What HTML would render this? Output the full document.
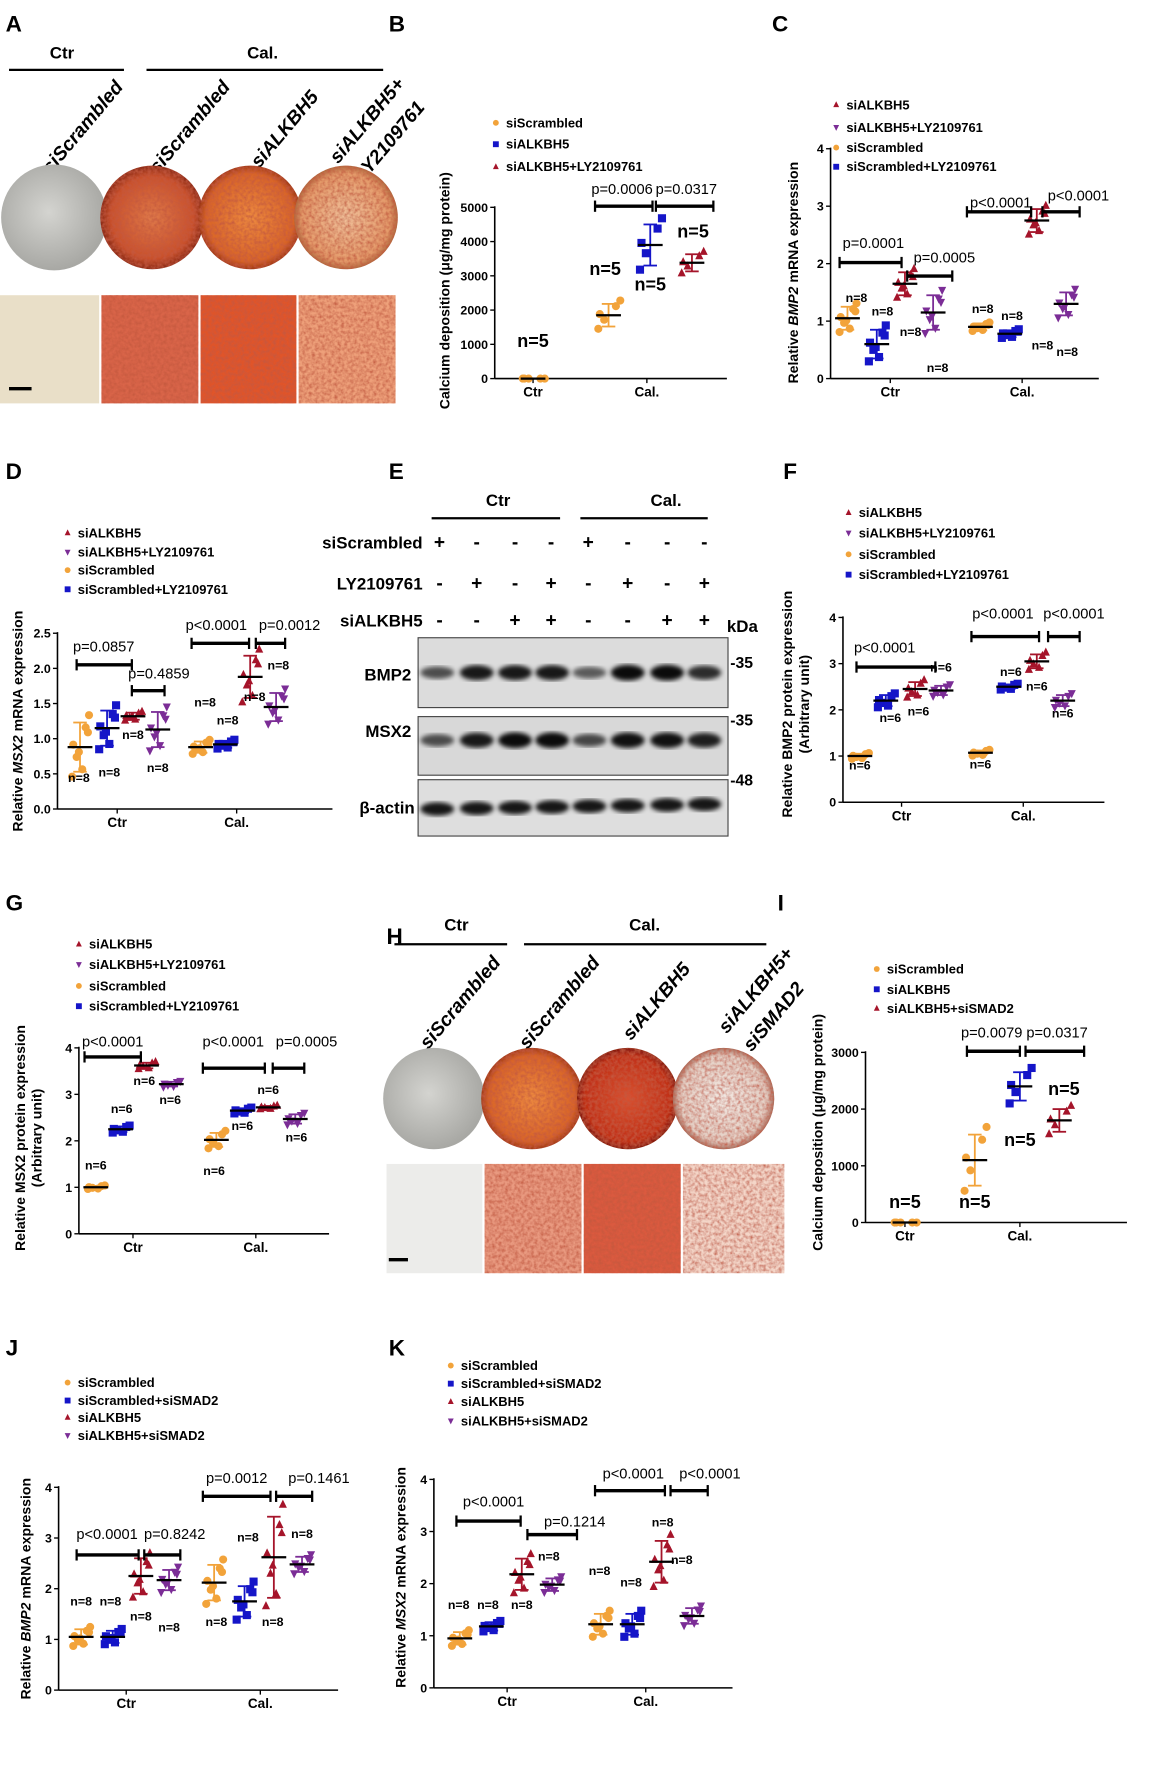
<!DOCTYPE html>
<html><head><meta charset="utf-8">
<style>
html,body{margin:0;padding:0;background:#fff;}
svg{display:block;}
text{font-family:"Liberation Sans",Arial,sans-serif;}
</style></head>
<body>
<svg id="s" width="1154" height="1778" viewBox="0 0 1024 1578" preserveAspectRatio="none" xmlns="http://www.w3.org/2000/svg">
<defs>
<filter id="noise" x="0" y="0" width="100%" height="100%">
<feTurbulence type="fractalNoise" baseFrequency="0.35" numOctaves="2" seed="3" result="t"/>
<feColorMatrix in="t" type="matrix" values="0 0 0 0 0.55  0 0 0 0 0.1  0 0 0 0 0.05  0 0 0 -1.6 1.1" result="c"/>
<feComposite in="c" in2="SourceGraphic" operator="in" result="m"/>
<feMerge><feMergeNode in="SourceGraphic"/><feMergeNode in="m"/></feMerge>
</filter>
<filter id="blur"><feGaussianBlur stdDeviation="2.2"/></filter>
<radialGradient id="gRed" cx="50%" cy="50%" r="50%"><stop offset="0" stop-color="#e07a4a"/><stop offset="0.8" stop-color="#c8502c"/><stop offset="1" stop-color="#8a2a18"/></radialGradient>
<radialGradient id="gOr" cx="50%" cy="50%" r="50%"><stop offset="0" stop-color="#ee8a40"/><stop offset="0.85" stop-color="#d86428"/><stop offset="1" stop-color="#a03a18"/></radialGradient>
<radialGradient id="gPale" cx="50%" cy="50%" r="50%"><stop offset="0" stop-color="#f0c09a"/><stop offset="0.85" stop-color="#e49a6a"/><stop offset="1" stop-color="#b06a40"/></radialGradient>
<radialGradient id="gGrey" cx="45%" cy="45%" r="55%"><stop offset="0" stop-color="#d4d4d0"/><stop offset="1" stop-color="#a8a8a4"/></radialGradient>
<radialGradient id="gDeep" cx="50%" cy="50%" r="50%"><stop offset="0" stop-color="#d85030"/><stop offset="0.85" stop-color="#c03018"/><stop offset="1" stop-color="#801810"/></radialGradient>
<radialGradient id="gWh" cx="50%" cy="50%" r="50%"><stop offset="0" stop-color="#f2e8e2"/><stop offset="0.85" stop-color="#e4cfc4"/><stop offset="1" stop-color="#a87060"/></radialGradient>
</defs>
<g id="root"></g>
</svg>
<script>
var NS="http://www.w3.org/2000/svg",root=document.getElementById('root');
function el(t,a,p,txt){var e=document.createElementNS(NS,t);for(var k in a)e.setAttribute(k,a[k]);if(txt!==undefined)e.textContent=txt;(p||root).appendChild(e);return e;}
function T(x,y,s,o){o=o||{};var a={x:x,y:y,'font-size':o.fs||11,'font-weight':o.fw||'bold','text-anchor':o.a||'start',fill:o.c||'#000'};if(o.it)a['font-style']='italic';if(o.tr)a.transform=o.tr;return el('text',a,null,s);}
function L(x1,y1,x2,y2,w,c){return el('line',{x1:x1,y1:y1,x2:x2,y2:y2,stroke:c||'#000','stroke-width':w||1.3});}
var COL={o:'#f2a33a',b:'#1515c8',r:'#a5142a',p:'#7b2d96'};
var SH={o:'c',b:'s',r:'u',p:'d'};
function mk(x,y,k,sz){var c=COL[k],s=sz||3.6,sh=SH[k];
 if(sh=='c')el('circle',{cx:x,cy:y,r:s,fill:c});
 else if(sh=='s')el('rect',{x:x-s,y:y-s,width:2*s,height:2*s,fill:c});
 else if(sh=='u')el('polygon',{points:(x)+','+(y-s*1.2)+' '+(x-s)+','+(y+s*0.8)+' '+(x+s)+','+(y+s*0.8),fill:c});
 else el('polygon',{points:(x)+','+(y+s*1.2)+' '+(x-s)+','+(y-s*0.8)+' '+(x+s)+','+(y-s*0.8),fill:c});}
var KS=[-1.2,0.8,-0.4,1.3,0.1,-0.9,0.6,-0.2];
var JX=[-7,5,-3,8,-6,2,7,-1];
function chart(c){
 var Y=function(v){return c.y0-(v/c.ymax)*(c.y0-c.ytop);};
 L(c.ax,c.y0,c.ax,c.ytop-1,1.4);L(c.ax,c.y0,c.xend,c.y0,1.4);
 c.ticks.forEach(function(v){var y=Y(v);L(c.ax-4,y,c.ax,y,1.2);T(c.ax-6,y+4,c.dec?v.toFixed(c.dec):String(v),{a:'end',fs:11});});
 c.groups.forEach(function(g){L(g[0],c.y0,g[0],c.y0+4,1.2);T(g[0],c.y0+16,g[1],{a:'middle',fs:12});});
 c.series.forEach(function(s){var x=s[0],m=s[1],sd=s[2],k=s[3],n=s[4];
  for(var i=0;i<n;i++){var v=m+sd*KS[i];if(v<0)v=Math.abs(v)*0.2;mk(x+JX[i]*(c.jw||1),Y(v),k);}
  if(sd>0){L(x,Y(m-sd),x,Y(m+sd),1.6,COL[k]);L(x-6,Y(m+sd),x+6,Y(m+sd),1.6,COL[k]);L(x-6,Y(m-sd),x+6,Y(m-sd),1.6,COL[k]);}
  L(x-11,Y(m),x+11,Y(m),2);});
 (c.nl||[]).forEach(function(p){T(p[0],p[1],c.nt,{a:'middle',fs:c.nfs||11});});
 (c.bars||[]).forEach(function(b){L(b[0],b[2],b[1],b[2],3);L(b[0],b[2]-5,b[0],b[2]+5,2);L(b[1],b[2]-5,b[1],b[2]+5,2);T(b[4],b[5],b[3],{a:'middle',fs:13,fw:'normal'});});
 var yl=c.ylab;yl.lines.forEach(function(ln,i){var x=yl.x+i*15;var t=el('text',{x:x,y:yl.y,'font-size':12.5,'font-weight':'bold','text-anchor':'middle',transform:'rotate(-90 '+x+' '+yl.y+')'});
  ln.forEach(function(seg){el('tspan',seg[1]?{'font-style':'italic'}:{},t,seg[0]);});});
}
[['A',5,28],['B',345,28],['C',685,28],['D',5,425],['E',345,425],['F',695,425],['G',5,808],['H',343,838],['I',690,808],['J',5,1203],['K',345,1203]].forEach(function(p){T(p[1],p[2],p[0],{fs:20});});

// Panel A
T(55,52,'Ctr',{a:'middle',fs:15});L(8,62,110,62,2);
T(233,52,'Cal.',{a:'middle',fs:15});L(130,62,340,62,2);
function rlab(x,y,s){T(x,y,s,{fs:17,it:1,tr:'rotate(-50 '+x+' '+y+')'});}
rlab(45,155,'siScrambled');rlab(140,155,'siScrambled');rlab(230,150,'siALKBH5');rlab(300,146,'siALKBH5+');rlab(322,162,'LY2109761');
el('circle',{cx:48,cy:193,r:47,fill:'url(#gGrey)'});
el('circle',{cx:135,cy:193,r:46,fill:'url(#gRed)',filter:'url(#noise)'});
el('circle',{cx:222,cy:193,r:46,fill:'url(#gOr)',filter:'url(#noise)'});
el('circle',{cx:307,cy:193,r:46,fill:'url(#gPale)',filter:'url(#noise)'});
el('rect',{x:0,y:262,width:88,height:96,fill:'#e9dfc8'});
el('rect',{x:90,y:262,width:86,height:96,fill:'#d9654a',filter:'url(#noise)'});
el('rect',{x:178,y:262,width:85,height:96,fill:'#e0552c',filter:'url(#noise)'});
el('rect',{x:265,y:262,width:86,height:96,fill:'#eea07a',filter:'url(#noise)'});
L(8,345,28,345,3);

function safe(f){try{f();}catch(e){}}
// Panel B
safe(function(){chart({ax:439,y0:336,ytop:184,ymax:5000,ticks:[0,1000,2000,3000,4000,5000],xend:645,
 groups:[[473,'Ctr'],[574,'Cal.']],
 series:[[473,0,0,'o',5],[540,1850,330,'o',5],[577,3900,600,'b',5],[614,3380,250,'r',5]],
 nt:'n=5',nfs:16,nl:[[473,308],[537,244],[577,258],[615,211]],
 bars:[[528,579,183,'p=0.0006',552,172],[582,633,183,'p=0.0317',609,172]],
 ylab:{x:399,y:258,lines:[[['Calcium deposition (μg/mg protein)']]]},jw:1.3});});
// Panel C
safe(function(){chart({ax:737,y0:336,ytop:132,ymax:4,ticks:[0,1,2,3,4],xend:975,
 groups:[[790,'Ctr'],[907,'Cal.']],
 series:[[752,1.05,0.2,'o',8],[778,0.6,0.25,'b',8],[803,1.65,0.2,'r',8],[828,1.15,0.3,'p',8],
  [870,0.9,0.06,'o',8],[896,0.78,0.06,'b',8],[920,2.75,0.2,'r',8],[946,1.3,0.2,'p',8]],
 nt:'n=8',nl:[[760,268],[783,280],[808,298],[832,330],[872,278],[898,284],[925,310],[947,316]],
 bars:[[745,800,233,'p=0.0001',775,220],[805,845,245,'p=0.0005',838,233],[858,915,188,'p<0.0001',888,184],[925,958,188,'p<0.0001',957,178]],
 ylab:{x:708,y:242,lines:[[['Relative '],['BMP2',1],[' mRNA  expression']]]}});});
// Panel D
safe(function(){chart({ax:51,y0:718,ytop:562,ymax:2.5,ticks:[0,0.5,1,1.5,2,2.5],dec:1,xend:295,
 groups:[[104,'Ctr'],[210,'Cal.']],
 series:[[71,0.88,0.35,'o',8],[95,1.15,0.25,'b',8],[118,1.32,0.05,'r',8],[140,1.13,0.25,'p',8],
  [178,0.88,0.08,'o',8],[200,0.92,0.05,'b',8],[222,1.88,0.3,'r',8],[245,1.45,0.2,'p',8]],
 nt:'n=8',nl:[[70,694],[97,689],[118,656],[140,685],[182,627],[202,643],[226,622],[247,594]],
 bars:[[68,117,590,'p=0.0857',92,578],[117,146,613,'p=0.4859',141,602],[170,221,571,'p<0.0001',192,559],[227,253,571,'p=0.0012',257,559]],
 ylab:{x:20,y:640,lines:[[['Relative '],['MSX2',1],[' mRNA  expression']]]}});});
// Panel F
safe(function(){chart({ax:748,y0:712,ytop:548,ymax:4,ticks:[0,1,2,3,4],xend:980,
 groups:[[800,'Ctr'],[908,'Cal.']],
 series:[[763,1.0,0.05,'o',6],[786,2.2,0.12,'b',6],[812,2.45,0.15,'r',6],[835,2.42,0.1,'p',6],
  [870,1.07,0.05,'o',6],[895,2.5,0.05,'b',6],[920,3.05,0.15,'r',6],[943,2.2,0.12,'p',6]],
 nt:'n=6',nl:[[763,683],[790,641],[815,635],[835,596],[870,682],[897,600],[920,613],[943,637]],
 bars:[[760,830,592,'p<0.0001',785,579],[862,922,565,'p<0.0001',890,549],[930,958,565,'p<0.0001',953,549]],
 ylab:{x:703,y:625,lines:[[['Relative BMP2 protein expression']],[['(Arbitrary unit)']]]}});});
// Panel G
safe(function(){chart({ax:70,y0:1095,ytop:930,ymax:4,ticks:[0,1,2,3,4],xend:292,
 groups:[[118,'Ctr'],[227,'Cal.']],
 series:[[85,1.0,0.03,'o',6],[107,2.25,0.06,'b',6],[130,3.62,0.06,'r',6],[152,3.22,0.05,'p',6],
  [192,2.02,0.15,'o',6],[215,2.65,0.05,'b',6],[238,2.72,0.03,'r',6],[262,2.47,0.1,'p',6]],
 nt:'n=6',nl:[[85,1038],[108,988],[128,963],[151,980],[190,1043],[215,1003],[238,971],[263,1013]],
 bars:[[75,125,938,'p<0.0001',100,929],[180,235,948,'p<0.0001',207,929],[242,270,948,'p=0.0005',272,929]],
 ylab:{x:22,y:1010,lines:[[['Relative MSX2 protein expression']],[['(Arbitrary unit)']]]}});});
// Panel I
safe(function(){chart({ax:768,y0:1085,ytop:934,ymax:3000,ticks:[0,1000,2000,3000],xend:1000,
 groups:[[803,'Ctr'],[905,'Cal.']],
 series:[[803,0,0,'o',5],[865,1100,450,'o',5],[905,2400,250,'b',5],[940,1800,200,'r',5]],
 nt:'n=5',nfs:16,nl:[[803,1072],[865,1072],[905,1017],[944,972]],
 bars:[[858,905,933,'p=0.0079',880,921],[910,962,933,'p=0.0317',938,921]],
 ylab:{x:730,y:1005,lines:[[['Calcium deposition (μg/mg protein)']]]},jw:1.3});});
// Panel J
safe(function(){chart({ax:52,y0:1500,ytop:1320,ymax:4,ticks:[0,1,2,3,4],xend:300,
 groups:[[112,'Ctr'],[231,'Cal.']],
 series:[[72,1.05,0.15,'o',8],[100,1.05,0.12,'b',8],[125,2.25,0.35,'r',8],[150,2.17,0.2,'p',8],
  [190,2.12,0.35,'o',8],[217,1.75,0.3,'b',8],[243,2.62,0.8,'r',8],[268,2.48,0.15,'p',8]],
 nt:'n=8',nl:[[72,1425],[98,1425],[125,1438],[150,1448],[192,1443],[220,1368],[242,1443],[268,1365]],
 bars:[[68,123,1380,'p<0.0001',95,1366],[128,160,1380,'p=0.8242',155,1366],[180,240,1328,'p=0.0012',210,1316],[245,277,1328,'p=0.1461',283,1316]],
 ylab:{x:27,y:1410,lines:[[['Relative '],['BMP2',1],[' mRNA  expression']]]}});});
// Panel K
safe(function(){chart({ax:385,y0:1498,ytop:1313,ymax:4,ticks:[0,1,2,3,4],xend:650,
 groups:[[450,'Ctr'],[573,'Cal.']],
 series:[[408,0.95,0.12,'o',8],[436,1.18,0.08,'b',8],[463,2.18,0.3,'r',8],[490,1.98,0.12,'p',8],
  [533,1.22,0.2,'o',8],[561,1.22,0.2,'b',8],[587,2.42,0.4,'r',8],[614,1.38,0.15,'p',8]],
 nt:'n=8',nl:[[407,1428],[433,1428],[463,1428],[487,1385],[532,1398],[560,1408],[588,1355],[605,1388]],
 bars:[[405,462,1350,'p<0.0001',438,1337],[468,512,1362,'p=0.1214',510,1355],[528,590,1323,'p<0.0001',562,1312],[595,628,1323,'p<0.0001',630,1312]],
 ylab:{x:360,y:1400,lines:[[['Relative '],['MSX2',1],[' mRNA  expression']]]}});});
// Legends
function leg(x,ys,items){items.forEach(function(it,i){mk(x,ys[i]-4,it[0],2.6);T(x+9,ys[i],it[1],{fs:11.5});});}
var LY=[['r','siALKBH5'],['p','siALKBH5+LY2109761'],['o','siScrambled'],['b','siScrambled+LY2109761']];
var SM=[['o','siScrambled'],['b','siScrambled+siSMAD2'],['r','siALKBH5'],['p','siALKBH5+siSMAD2']];
leg(440,[113,132,152],[['o','siScrambled'],['b','siALKBH5'],['r','siALKBH5+LY2109761']]);
leg(742,[97,117,135,152],LY);
leg(60,[477,494,510,527],LY);
leg(753,[459,477,496,514],LY);
leg(70,[842,860,879,897],LY);
leg(778,[864,882,899],[['o','siScrambled'],['b','siALKBH5'],['r','siALKBH5+siSMAD2']]);
leg(60,[1231,1247,1262,1278],SM);
leg(400,[1216,1232,1248,1265],SM);

// Panel E
T(442,449,'Ctr',{a:'middle',fs:15});L(383,460,497,460,2);
T(591,449,'Cal.',{a:'middle',fs:15});L(515,460,628,460,2);
T(375,487,'siScrambled',{a:'end',fs:15});T(375,523,'LY2109761',{a:'end',fs:15});T(375,556,'siALKBH5',{a:'end',fs:15});
var cols=[390,423,457,489,522,557,592,625];
var r1='+---+---',r2='-+-+-+-+',r3='--++--++';
[[r1,487],[r2,523],[r3,556]].forEach(function(r){for(var i=0;i<8;i++)T(cols[i],r[1],r[0][i]=='+'?'+':'-',{a:'middle',fs:17});});
T(645,561,'kDa',{fs:15});
el('rect',{x:371,y:566,width:275,height:62,fill:'#dcdcdc',stroke:'#444'});
el('rect',{x:371,y:636,width:275,height:52,fill:'#d8d8d8',stroke:'#444'});
el('rect',{x:371,y:692,width:275,height:50,fill:'#dedede',stroke:'#444'});
T(365,604,'BMP2',{a:'end',fs:15});T(365,654,'MSX2',{a:'end',fs:15});T(368,722,'β-actin',{a:'end',fs:15});
var bx=[388,423,457,490,523,557,592,625];
var b1=[0.5,0.9,0.9,0.9,0.4,1,1,0.75],b2=[0.5,0.9,1,1,0.55,0.95,0.95,0.85];
for(var i=0;i<8;i++){
 el('ellipse',{cx:bx[i],cy:597,rx:15,ry:4+3*b1[i],fill:'#000','fill-opacity':0.35+0.6*b1[i],filter:'url(#blur)'});
 el('ellipse',{cx:bx[i],cy:657,rx:15,ry:4+3*b2[i],fill:'#000','fill-opacity':0.35+0.6*b2[i],filter:'url(#blur)'});
 el('ellipse',{cx:bx[i],cy:718-(i*0.6),rx:15,ry:6,fill:'#000','fill-opacity':0.9,filter:'url(#blur)'});}
T(648,593,'-35',{fs:14});T(648,644,'-35',{fs:14});T(648,697,'-48',{fs:14});

// Panel H
T(405,826,'Ctr',{a:'middle',fs:15});L(350,838,450,838,2);
T(572,826,'Cal.',{a:'middle',fs:15});L(465,838,680,838,2);
rlab(380,932,'siScrambled');rlab(468,932,'siScrambled');rlab(560,924,'siALKBH5');rlab(645,918,'siALKBH5+');rlab(667,934,'siSMAD2');
el('circle',{cx:385,cy:975,r:45,fill:'url(#gGrey)'});
el('circle',{cx:472,cy:975,r:45,fill:'url(#gOr)',filter:'url(#noise)'});
el('circle',{cx:557,cy:975,r:45,fill:'url(#gDeep)',filter:'url(#noise)'});
el('circle',{cx:642,cy:975,r:45,fill:'url(#gWh)',filter:'url(#noise)'});
el('rect',{x:343,y:1033,width:85,height:97,fill:'#ececea'});
el('rect',{x:430,y:1033,width:86,height:97,fill:'#e99a80',filter:'url(#noise)'});
el('rect',{x:518,y:1033,width:86,height:97,fill:'#da5a40',filter:'url(#noise)'});
el('rect',{x:606,y:1033,width:90,height:97,fill:'#f4d6c8',filter:'url(#noise)'});
L(345,1118,362,1118,3);
</script>
</body></html>
